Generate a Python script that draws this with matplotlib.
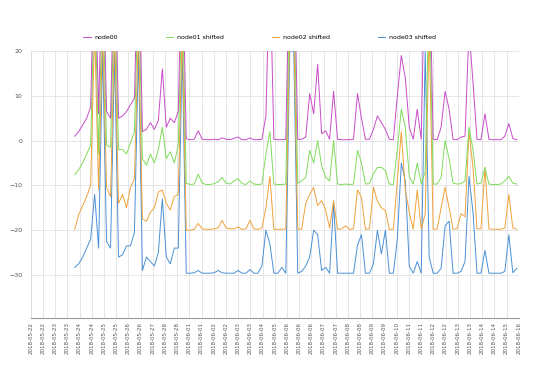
import numpy as np
import matplotlib
matplotlib.use("Agg")
import matplotlib.pyplot as plt

# tick labels on the category axis (one every few samples)
tick_labels = ['2018-05-22', '2018-05-22', '2018-05-23', '2018-05-23', '2018-05-24', '2018-05-24',
               '2018-05-25', '2018-05-25', '2018-05-26', '2018-05-26', '2018-05-27', '2018-05-28',
               '2018-05-28', '2018-06-01', '2018-06-01', '2018-06-02', '2018-06-02', '2018-06-03',
               '2018-06-03', '2018-06-04', '2018-06-05', '2018-06-06', '2018-06-06', '2018-06-06',
               '2018-06-07', '2018-06-07', '2018-06-08', '2018-06-08', '2018-06-09', '2018-06-09',
               '2018-06-10', '2018-06-11', '2018-06-11', '2018-06-12', '2018-06-12', '2018-06-13',
               '2018-06-13', '2018-06-14', '2018-06-14', '2018-06-15', '2018-06-16']

names = ['node00', 'node01 shifted', 'node02 shifted', 'node03 shifted']
shifts = [0, -10, -20, -30]
colors = ['#c94cc9', '#7fdc5a', '#f0a23a', '#4a90d6']

node00 = [1.0, 2.0, 3.5, 5.0, 7.5, 45, 6, 45, 6.5, 5, 45, 5, 5.5, 6.5, 8, 9.5, 45, 2, 2.5, 4,
          2.5, 4.5, 16, 3, 5, 4, 6.5, 45,
          0.4, 0.2, 0.3, 2.2, 0.3, 0.2, 0.2, 0.3, 0.2, 0.6, 0.3, 0.2, 0.5, 0.8, 0.2, 0.2, 0.6, 0.2, 0.2, 0.3,
          5.5, 40, 0.3, 0.2, 0.2, 0.3, 45, 45, 0.3, 0.3, 0.8, 10.5, 6, 17, 1.5, 2.2, 0.3, 11, 0.3, 0.2,
          0.2, 0.2, 0.3, 10.5, 5, 0.3, 0.3, 2.5, 5.5, 4, 2.5, 0.3, 0.2, 10, 19, 14, 3, 0.3, 7, 0.3,
          45, 45, 0.3, 0.2, 3, 11, 7, 0.3, 0.2, 0.8, 1, 25, 13, 0.3, 0.2, 6, 0.3, 0.2, 0.2, 0.2,
          1, 3.8, 0.5, 0.2]
node01 = [2.4, 3.5, 5, 7, 9, 45, 7, 45, 9, 8.5, 45, 8, 8, 7, 9.5, 12, 45, 6, 4.5, 7,
          5, 8, 13, 6, 7.5, 5, 9, 45,
          0.5, 0.2, 0.3, 2.5, 0.5, 0.2, 0.2, 0.4, 0.8, 1.8, 0.5, 0.3, 1, 1.5, 0.4, 0.2, 1, 0.3, 0.2, 0.3,
          7, 12, 0.3, 0.2, 0.2, 0.3, 45, 45, 0.5, 1, 1.8, 7.8, 5, 10, 4.4, 1.8, 1, 10, 0.3, 0.2,
          0.3, 0.2, 0.3, 7.8, 5, 0.3, 0.4, 2.6, 4, 4, 3.3, 0.3, 0.2, 8, 17, 13, 2, 0.3, 5, 0.3,
          3, 45, 0.3, 0.3, 1.8, 10, 6, 0.5, 0.3, 0.4, 1, 13, 8, 0.3, 0.5, 4, 0.3, 0.2, 0.2, 0.3,
          1, 2, 0.5, 0.3]
node02 = [0.2, 3.5, 5.5, 7.5, 10, 45, 9, 45, 9.5, 7.5, 45, 6, 8, 5, 9.5, 11.5, 45, 2.5, 2, 4,
          5, 8.5, 9, 6, 4.5, 7.5, 8, 45,
          0, 0, 0.2, 1.5, 0.3, 0.2, 0.2, 0.3, 0.5, 2.2, 0.5, 0.3, 0.3, 0.7, 0.2, 0.3, 2.2, 0.3, 0.2, 0.5,
          5, 12, 0.2, 0.2, 0.2, 0.3, 45, 45, 0.2, 0.3, 6, 8, 9.5, 5.5, 6.6, 4.5, 0.5, 6.6, 0.2, 0.3,
          1, 0.2, 0.3, 9, 7.3, 0.2, 0.3, 9.6, 6.5, 5, 4.4, 0.2, 0.2, 11, 22, 9, 4, 0.2, 9, 0.2,
          3.7, 45, 0.2, 0.3, 5, 9.6, 5, 0.2, 0.3, 3.7, 3, 22, 14, 0.3, 0.3, 14, 0.3, 0.2, 0.2, 0.2,
          0.5, 8, 0.5, 0.2]
node03 = [1.7, 2.5, 4, 6, 8, 18, 6, 50, 7.5, 6, 50, 4, 4.5, 6.5, 6.5, 9.5, 50, 1, 4, 3,
          2, 5, 17, 4, 2.5, 6, 6, 50,
          0.4, 0.4, 0.5, 1, 0.4, 0.4, 0.4, 0.5, 1, 0.5, 0.4, 0.4, 0.4, 1, 0.4, 0.4, 1.2, 0.4, 0.4, 2,
          10, 7, 0.4, 0.4, 1.7, 0.4, 50, 50, 0.4, 0.8, 2, 4, 10, 9, 1, 1.7, 0.4, 16, 0.4, 0.4,
          0.4, 0.4, 0.4, 6.6, 9, 0.4, 0.4, 2.5, 10, 4.7, 10, 0.4, 0.4, 8, 25, 21, 2, 0.4, 3, 0.4,
          50, 4, 0.4, 0.4, 1.5, 11, 12, 0.4, 0.4, 0.8, 3, 22, 14, 0.4, 0.4, 5.5, 0.4, 0.4, 0.4, 0.4,
          0.8, 9, 0.5, 1.5]

series = [node00, node01, node02, node03]

fig = plt.figure(figsize=(5.4, 3.82), dpi=100)
ax = fig.add_axes([30.5 / 540, 1 - 318 / 382, (519 - 30.5) / 540, (318 - 51) / 382])

x = np.arange(len(node00))
lines = []
for i, (vals, name, sh, c) in enumerate(zip(series, names, shifts, colors)):
    ln, = ax.plot(x, np.array(vals) + sh, color=c, lw=0.7, label=name, zorder=10 - i)
    lines.append(ln)

# category ticks: first tick at left edge, last at right edge
tick_pos = np.linspace(-11.05, 111.5, len(tick_labels))
ax.set_xlim(-11.1, 111.55)
ax.set_ylim(-39.6, 20)
ax.set_xticks(tick_pos)
ax.set_xticklabels(tick_labels, rotation=90, fontsize=4, color='#555555')
ax.set_yticks([-30, -20, -10, 0, 10, 20])
ax.tick_params(axis='y', length=0, pad=6, labelsize=4.5, labelcolor='#555555')
ax.tick_params(axis='x', length=0, pad=3)

ax.grid(True, color='#e2e2e2', lw=0.6)
ax.set_axisbelow(True)
for s in ['top', 'right']:
    ax.spines[s].set_visible(False)
ax.spines['left'].set_color('#dddddd')
ax.spines['left'].set_linewidth(0.6)
ax.spines['bottom'].set_color('#9a9a9a')
ax.spines['bottom'].set_linewidth(0.8)

fig.legend(lines, names, loc='lower left',
           bbox_to_anchor=(83 / 540, 1 - 40 / 382, (436 - 83) / 540, 10 / 382),
           mode='expand', ncol=4, frameon=False, fontsize=4.5,
           handlelength=1.2, handletextpad=0.6, borderaxespad=0, borderpad=0)

plt.savefig('out.png', dpi=100)
